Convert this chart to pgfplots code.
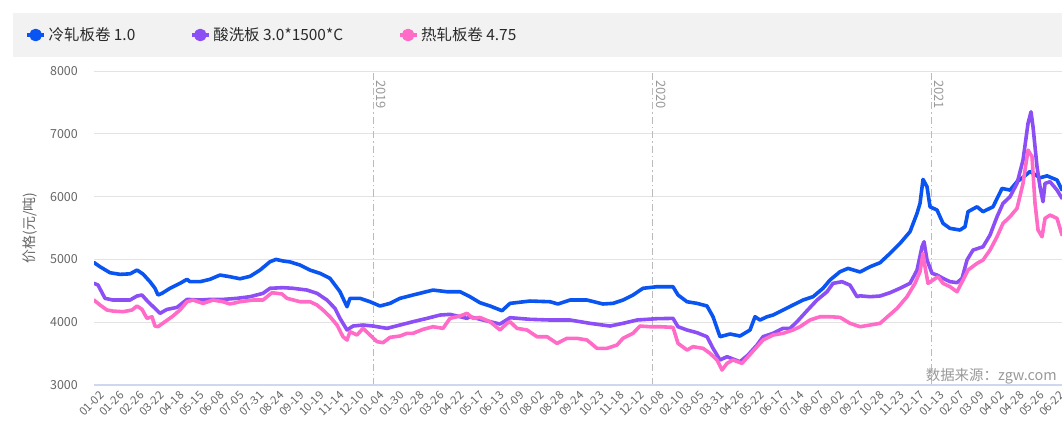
\documentclass[border=0pt]{standalone}
\usepackage{fontspec}
\setmainfont{Noto Sans CJK SC}
\usepackage{pgfplots}
\pgfplotsset{compat=1.18}
\definecolor{cblue}{HTML}{0A55F2}
\definecolor{cpurple}{HTML}{8C4FF5}
\definecolor{cpink}{HTML}{FF6BC6}
\definecolor{legbg}{HTML}{F2F2F2}
\definecolor{legtext}{HTML}{2A2A2A}
\definecolor{tickgray}{HTML}{666666}
\definecolor{gridgray}{HTML}{E3E3E3}
\definecolor{axisline}{HTML}{D0D8EE}
\definecolor{yeargray}{HTML}{BBBBBB}
\definecolor{srcgray}{HTML}{999999}

\pgfplotstableread{
x y
94 4950
100 4883
110 4788
120 4762
130 4770
137 4830
143 4767
150 4645
155 4540
158 4433
162 4460
170 4540
180 4619
187 4683
190 4645
200 4645
210 4683
220 4751
230 4724
240 4692
250 4730
260 4830
270 4963
276 5000
283 4975
290 4960
300 4910
310 4830
320 4778
330 4698
340 4485
347 4246
350 4380
360 4380
370 4326
380 4258
390 4300
400 4380
413 4433
433 4512
447 4485
460 4485
470 4406
480 4310
490 4258
502 4183
510 4300
530 4337
550 4326
558 4290
570 4353
587 4353
603 4290
613 4300
623 4353
633 4433
643 4540
657 4565
673 4565
678 4433
687 4326
697 4300
707 4258
713 4087
720 3769
730 3812
740 3780
750 3876
755 4087
760 4035
767 4087
773 4114
783 4194
793 4274
803 4353
813 4406
823 4540
830 4672
840 4804
848 4857
860 4800
870 4883
880 4947
890 5096
900 5255
910 5441
917 5733
920 5892
923 6274
927 6157
930 5838
937 5786
943 5574
950 5494
960 5468
965 5520
968 5760
977 5838
983 5760
993 5838
1002 6130
1010 6104
1017 6237
1023 6306
1030 6400
1040 6300
1047 6330
1057 6264
1062 6104
}\cold

\pgfplotstableread{
x y
94 4619
98 4592
105 4380
113 4353
130 4353
137 4417
142 4433
148 4326
155 4220
160 4141
167 4204
177 4236
187 4363
200 4353
210 4363
223 4363
237 4380
250 4406
263 4460
270 4540
283 4550
293 4540
307 4512
317 4460
327 4353
335 4220
340 4061
347 3876
353 3939
363 3955
373 3939
387 3902
400 3955
413 4008
427 4061
440 4114
450 4125
467 4061
470 4087
483 4035
500 3971
510 4072
530 4046
550 4035
570 4035
590 3982
610 3939
623 3982
637 4035
657 4056
673 4061
678 3928
687 3876
697 3833
707 3769
713 3584
720 3398
727 3451
740 3371
748 3478
757 3637
763 3769
773 3823
783 3902
790 3902
797 4008
807 4183
817 4353
827 4485
833 4619
842 4645
850 4590
857 4406
860 4420
870 4406
880 4417
890 4470
900 4540
910 4619
917 4830
922 5201
924 5281
927 4990
932 4778
937 4751
943 4698
950 4645
957 4630
962 4698
967 4990
973 5149
983 5201
990 5388
997 5680
1003 5892
1010 5998
1017 6210
1023 6582
1028 7165
1031 7350
1033 7111
1037 6475
1040 6157
1043 5918
1045 6210
1050 6237
1057 6104
1062 5972
}\pickled

\pgfplotstableread{
x y
94 4353
100 4274
107 4194
113 4177
123 4167
132 4194
137 4258
142 4204
147 4061
152 4087
155 3939
158 3929
165 4008
172 4087
180 4194
187 4326
193 4353
203 4300
213 4353
223 4326
230 4290
240 4326
253 4353
263 4353
272 4470
282 4449
287 4380
300 4326
310 4326
317 4274
323 4194
330 4087
337 3955
343 3769
347 3716
350 3849
357 3796
363 3902
370 3796
377 3690
383 3674
390 3759
400 3780
407 3823
413 3823
423 3886
433 3928
443 3902
450 4061
460 4098
467 4141
473 4061
480 4075
490 4008
500 3876
507 3982
510 4008
517 3902
527 3876
537 3769
547 3769
557 3663
567 3743
577 3743
587 3716
597 3584
607 3584
617 3637
623 3743
633 3823
640 3939
650 3928
660 3928
673 3918
678 3663
687 3557
693 3610
703 3584
710 3504
717 3398
722 3239
727 3345
733 3398
742 3345
748 3451
757 3610
763 3716
773 3796
783 3823
793 3876
800 3928
810 4035
820 4087
830 4087
840 4077
850 3982
860 3928
880 3982
897 4220
907 4406
915 4619
920 4804
923 5096
925 4883
928 4619
933 4672
938 4724
943 4619
950 4565
957 4485
963 4672
968 4830
977 4937
983 4990
990 5149
997 5361
1003 5574
1010 5680
1017 5813
1023 6210
1028 6741
1032 6634
1035 5892
1038 5468
1042 5361
1045 5653
1050 5706
1057 5653
1062 5388
}\hot

\begin{document}
\begin{tikzpicture}[x=1bp,y=1bp]
\useasboundingbox (0,0) rectangle (1062,425);
\clip (0,0) rectangle (1062,425);
\fill[legbg] (13,368) rectangle (1070,412);
\begin{axis}[
  at={(94bp,40bp)}, anchor=south west,
  scale only axis, width=968bp, height=314bp,
  xmin=94, xmax=1062, ymin=3000, ymax=8000,
  axis line style={draw=none},
  tick style={draw=none},
  major tick length=0pt,
  ytick={3000,4000,5000,6000,7000,8000},
  ymajorgrids,
  major grid style={draw=gridgray, line width=1bp},
  extra y ticks={3000},
  extra y tick labels={},
  extra y tick style={major grid style={draw=axisline, line width=1.3bp}},
  extra x ticks={373.3,652.7,931},
  extra x tick labels={},
  extra x tick style={xmajorgrids=true, major grid style={draw=yeargray, line width=0.9bp, dash pattern=on 7bp off 3bp on 1.5bp off 3bp}},
  /pgf/number format/assume math mode=true,
  /pgf/number format/1000 sep={},
  yticklabel style={font=\fontsize{12.5}{14}\selectfont, text=tickgray, inner sep=0pt, anchor=east, xshift=-16bp},
  xtick={94,114,...,1054},
  xticklabels={01-02,01-26,02-26,03-22,04-18,05-15,06-08,07-05,07-31,08-24,09-19,10-19,11-14,12-10,01-04,01-30,02-28,03-26,04-22,05-17,06-13,07-09,08-02,08-28,09-24,10-23,11-18,12-12,01-08,02-10,03-05,03-31,04-26,05-22,06-17,07-14,08-07,09-02,09-27,10-28,11-23,12-17,01-13,02-07,03-09,04-02,04-28,05-26,06-22},
  xticklabel style={font=\fontsize{11.5}{13}\selectfont, text=tickgray, rotate=45, anchor=north east, inner sep=0pt, yshift=-7bp},
  every axis plot/.append style={line width=3.6bp, line join=round, line cap=round},
  legend columns=-1,
  legend style={at={(axis description cs:-0.0713,1.1146)}, anchor=west, draw=none, fill=none, inner sep=0pt,
    font=\fontsize{15.5}{18}\selectfont, text=legtext,
    /tikz/every even column/.append style={column sep=52bp},
    nodes={inner sep=2.5bp}},
  legend image code/.code={\draw[#1, line width=4bp, line cap=butt] (0bp,0bp) -- (17bp,0bp); \fill[#1] (8.5bp,0bp) circle (4.5bp);},
]
\addplot[cblue] table[x=x,y=y] {\cold};
\addlegendentry{冷轧板卷 1.0}
\addplot[cpurple] table[x=x,y=y] {\pickled};
\addlegendentry{酸洗板 3.0*1500*C}
\addplot[cpink] table[x=x,y=y] {\hot};
\addlegendentry{热轧板卷 4.75}
\end{axis}
\node[rotate=90, font=\fontsize{14}{16}\selectfont, text=tickgray] at (30,197) {价格(元/吨)};
\foreach \xx/\yy in {376.5/2019,656/2020,934.3/2021}
  \node[rotate=-90, anchor=south west, inner sep=0pt, font=\fontsize{13}{15}\selectfont, text=srcgray] at (\xx,345) {\yy};
\node[anchor=east, inner sep=0pt, font=\fontsize{14.5}{16}\selectfont, text=srcgray] at (1057,49) {数据来源：zgw.com};
\end{tikzpicture}
\end{document}
